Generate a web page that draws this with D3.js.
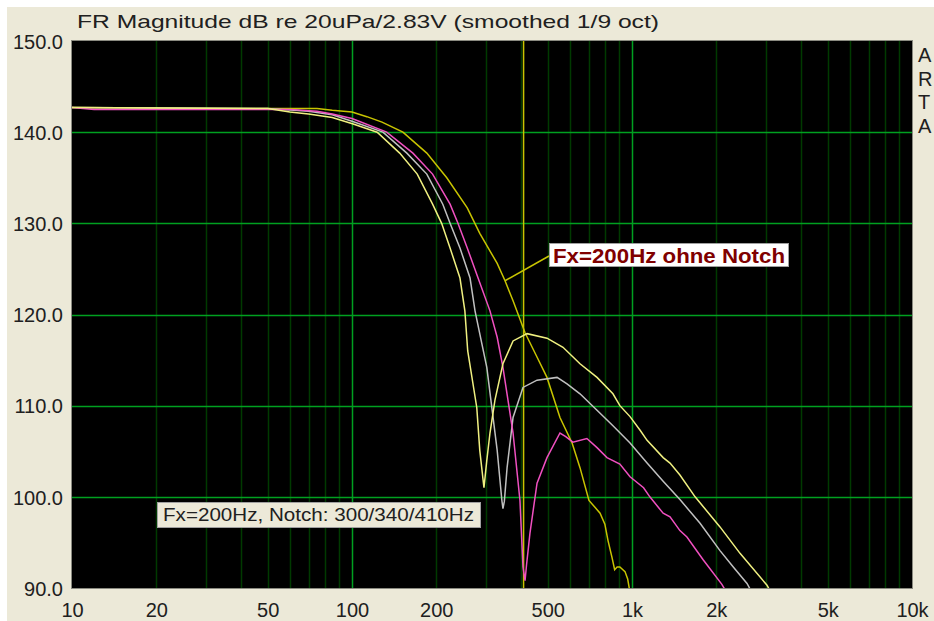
<!DOCTYPE html>
<html>
<head>
<meta charset="utf-8">
<script src="https://cdn.jsdelivr.net/npm/d3@7"></script>
<style>
  body { margin: 0; background: #ffffff; }
  svg { display: block; }
  text { font-family: "Liberation Sans", Arial, sans-serif; }
</style>
</head>
<body>
<div id="chart"></div>
<script>
// --- data ---
var titleText = "FR Magnitude dB re 20uPa/2.83V (smoothed 1/9 oct)";
var freqLabels = [10, 20, 50, 100, 200, 500, 1000, 2000, 5000, 10000];
var freqLabelText = ["10", "20", "50", "100", "200", "500", "1k", "2k", "5k", "10k"];
var dbTicks = [150, 140, 130, 120, 110, 100, 90];
var cursorFreq = 410;

// Fx=200Hz ohne Notch (dark yellow)
var ohneF  = [10, 30, 60, 75, 85, 100, 113, 128, 152, 185, 218, 258, 286, 330, 352, 376, 415, 455, 497, 553, 611, 652, 702, 740, 769, 800, 821, 849, 867, 885, 905, 944, 965, 980];
var ohneDb = [142.7, 142.6, 142.6, 142.6, 142.4, 142.2, 141.7, 141.1, 140.0, 137.7, 135.0, 131.7, 128.9, 125.6, 123.7, 121.5, 118.0, 115.5, 113.1, 108.7, 105.9, 103.2, 99.6, 98.8, 98.2, 97.0, 95.2, 93.3, 92.0, 92.3, 92.3, 91.8, 91.0, 89.8];

// Notch 300 Hz (light yellow)
var n300F  = [10, 50, 60, 70, 85, 101, 123, 148, 171, 194, 209, 224, 243, 253, 259, 279, 286, 294, 296, 303, 311, 324, 346, 376, 422, 497, 567, 652, 750, 855, 905, 984, 1069, 1132, 1292, 1367, 1483, 1680, 2062, 2431, 3035, 3100];
var n300Db = [142.7, 142.6, 142.2, 142.0, 141.6, 140.9, 140.0, 137.7, 135.4, 132.1, 130.0, 127.3, 124.0, 120.4, 116.0, 109.8, 105.1, 101.8, 101.0, 104.0, 107.0, 110.6, 114.6, 117.1, 117.9, 117.4, 116.4, 114.6, 113.1, 111.3, 110.0, 108.8, 107.3, 106.2, 104.3, 103.7, 102.4, 100.0, 96.7, 93.8, 90.3, 89.8];

// Notch 340 Hz (grey)
var n340F  = [10, 50, 70, 85, 100, 129, 157, 185, 211, 224, 243, 264, 275, 290, 303, 330, 343, 346, 350, 358, 376, 408, 458, 540, 586, 652, 750, 855, 984, 1132, 1292, 1483, 1750, 2062, 2300, 2575, 2650];
var n340Db = [142.7, 142.6, 142.3, 141.9, 141.2, 140.0, 137.7, 135.4, 132.1, 130.0, 127.3, 124.0, 120.4, 117.0, 114.2, 105.1, 99.6, 98.7, 99.5, 103.2, 108.7, 112.0, 112.8, 113.1, 112.4, 111.3, 109.5, 107.8, 105.9, 103.7, 101.7, 99.7, 97.1, 94.1, 92.3, 90.5, 89.8];

// Notch 410 Hz (magenta)
var n410F  = [10, 12, 60, 75, 85, 100, 133, 165, 194, 224, 239, 258, 282, 311, 330, 346, 376, 398, 408, 415, 420, 432, 458, 497, 553, 580, 615, 690, 750, 814, 905, 984, 1100, 1158, 1292, 1367, 1483, 1571, 1795, 2094, 2150];
var n410Db = [142.7, 142.5, 142.5, 142.3, 142.0, 141.5, 140.0, 137.7, 135.4, 132.1, 130.0, 127.3, 124.0, 120.4, 117.5, 114.2, 107.0, 99.6, 92.3, 90.8, 92.5, 96.0, 101.5, 104.3, 107.0, 106.6, 106.0, 106.4, 105.4, 104.3, 103.6, 102.2, 101.0, 100.0, 98.2, 97.8, 96.3, 95.6, 93.1, 90.4, 89.8];

var W = 934, H = 621;
var plot = { left: 72, right: 912, top: 41, bottom: 588 };

var svg = d3.select("#chart").append("svg")
    .attr("width", W)
    .attr("height", H);

svg.append("rect")
    .attr("x", 7).attr("y", 7)
    .attr("width", W - 7).attr("height", H - 7)
    .attr("fill", "#ece9d8");

var x = d3.scaleLog().domain([10, 10000]).range([plot.left, plot.right]);
var y = d3.scaleLinear().domain([90, 150]).range([plot.bottom, plot.top]);

svg.append("rect")
    .attr("x", plot.left).attr("y", plot.top)
    .attr("width", plot.right - plot.left).attr("height", plot.bottom - plot.top)
    .attr("fill", "#000000");

svg.append("defs").append("clipPath").attr("id", "clip")
  .append("rect")
    .attr("x", plot.left).attr("y", plot.top)
    .attr("width", plot.right - plot.left).attr("height", plot.bottom - plot.top);

// vertical grid: decades bright, the rest dark
var grid = svg.append("g");
grid.selectAll(".vg")
    .data(x.ticks().filter(function(d) { return d > 10 && d < 10000; }))
    .enter().append("line")
    .attr("x1", function(d) { return Math.round(x(d)) + 0.5; })
    .attr("x2", function(d) { return Math.round(x(d)) + 0.5; })
    .attr("y1", plot.top).attr("y2", plot.bottom)
    .attr("stroke", function(d) {
        var l = Math.log10(d);
        return Math.abs(l - Math.round(l)) < 1e-6 ? "#00a020" : "#003a00";
    })
    .attr("stroke-width", 1.5);

grid.selectAll(".hg")
    .data(dbTicks.filter(function(d) { return d > 90 && d < 150; }))
    .enter().append("line")
    .attr("x1", plot.left).attr("x2", plot.right)
    .attr("y1", function(d) { return Math.round(y(d)) + 0.5; })
    .attr("y2", function(d) { return Math.round(y(d)) + 0.5; })
    .attr("stroke", "#00a020")
    .attr("stroke-width", 1.5);

// cursor
svg.append("line")
    .attr("x1", x(cursorFreq)).attr("x2", x(cursorFreq))
    .attr("y1", plot.top).attr("y2", plot.bottom)
    .attr("stroke", "#c8c400")
    .attr("stroke-width", 1.5);

var line = d3.line()
    .x(function(d) { return x(d[0]); })
    .y(function(d) { return y(d[1]); });

var series = [
    { f: ohneF, db: ohneDb, color: "#c8c400" },
    { f: n340F, db: n340Db, color: "#c0c0c0" },
    { f: n410F, db: n410Db, color: "#f050c0" },
    { f: n300F, db: n300Db, color: "#f0f080" }
];

var curves = svg.append("g").attr("clip-path", "url(#clip)");
series.forEach(function(s) {
    curves.append("path")
        .datum(d3.zip(s.f, s.db))
        .attr("d", line)
        .attr("fill", "none")
        .attr("stroke", s.color)
        .attr("stroke-width", 1.5);
});

// plot frame
svg.append("rect")
    .attr("x", plot.left - 0.5).attr("y", plot.top - 0.5)
    .attr("width", plot.right - plot.left + 1).attr("height", plot.bottom - plot.top + 1)
    .attr("fill", "none")
    .attr("stroke", "#8a8a80");

// axes labels
var xAxis = d3.axisBottom(x)
    .tickValues(freqLabels)
    .tickFormat(function(d, i) { return freqLabelText[i]; })
    .tickSize(0)
    .tickPadding(0);
var gx = svg.append("g")
    .attr("transform", "translate(0," + 603 + ")")
    .call(xAxis);
gx.select(".domain").remove();
gx.selectAll("text")
    .attr("dy", "0.72em")
    .attr("fill", "#202020")
    .style("font-size", "20px")
    .style("font-family", "'Liberation Sans', Arial, sans-serif");

var yAxis = d3.axisLeft(y)
    .tickValues(dbTicks)
    .tickFormat(d3.format(".1f"))
    .tickSize(0)
    .tickPadding(9);
var gy = svg.append("g")
    .attr("transform", "translate(" + plot.left + ",0)")
    .call(yAxis);
gy.select(".domain").remove();
gy.selectAll("text")
    .attr("dy", "0.36em")
    .attr("fill", "#202020")
    .style("font-size", "20px")
    .style("font-family", "'Liberation Sans', Arial, sans-serif");

// title
svg.append("text")
    .attr("x", 77).attr("y", 28)
    .attr("font-size", 19)
    .attr("fill", "#202020")
    .attr("textLength", 582)
    .attr("lengthAdjust", "spacingAndGlyphs")
    .text(titleText);

// ARTA on the right
svg.selectAll(".arta")
    .data(["A", "R", "T", "A"])
    .enter().append("text")
    .attr("x", 918)
    .attr("y", function(d, i) { return 62 + i * 23.5; })
    .attr("font-size", 20)
    .attr("fill", "#202020")
    .text(function(d) { return d; });

// label: ohne Notch
svg.append("line")
    .attr("x1", x(352)).attr("y1", y(123.7))
    .attr("x2", 549).attr("y2", 256)
    .attr("stroke", "#c8c400")
    .attr("stroke-width", 1.5);
svg.append("rect")
    .attr("x", 549.5).attr("y", 243.5)
    .attr("width", 239).attr("height", 23)
    .attr("fill", "#ffffff")
    .attr("stroke", "#a0a0a0");
svg.append("text")
    .attr("x", 553).attr("y", 263)
    .attr("font-size", 20)
    .attr("font-weight", "bold")
    .attr("fill", "#800000")
    .attr("textLength", 232)
    .attr("lengthAdjust", "spacingAndGlyphs")
    .text("Fx=200Hz ohne Notch");

// label: notch variants
svg.append("rect")
    .attr("x", 157.5).attr("y", 502.5)
    .attr("width", 323).attr("height", 25)
    .attr("fill", "#ece9d8")
    .attr("stroke", "#a0a0a0");
svg.append("text")
    .attr("x", 163).attr("y", 521)
    .attr("font-size", 18)
    .attr("fill", "#202020")
    .attr("textLength", 311)
    .attr("lengthAdjust", "spacingAndGlyphs")
    .text("Fx=200Hz, Notch: 300/340/410Hz");
</script>
</body>
</html>
